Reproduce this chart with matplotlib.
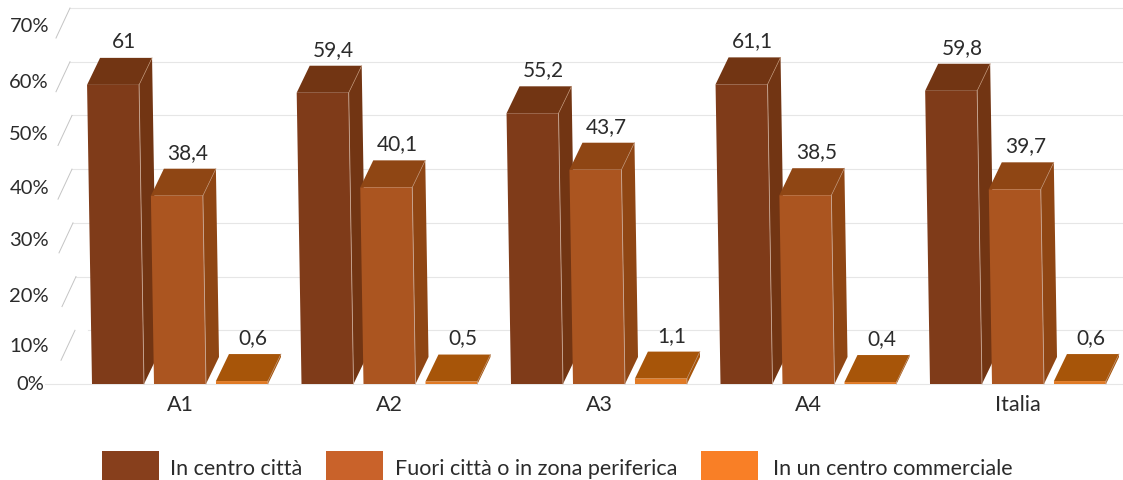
"""Quota di punti vendita per localizzazione, barre in finta prospettiva."""

import matplotlib
matplotlib.use("Agg")
import matplotlib.pyplot as plt
from matplotlib.patches import Polygon, Rectangle

areas = ["A1", "A2", "A3", "A4", "Italia"]
series_names = ["In centro città", "Fuori città o in zona periferica", "In un centro commerciale"]
centro = [61, 59.4, 55.2, 61.1, 59.8]
fuori = [38.4, 40.1, 43.7, 38.5, 39.7]
commerciale = [0.6, 0.5, 1.1, 0.4, 0.6]
value_labels = [
    ["61", "59,4", "55,2", "61,1", "59,8"],
    ["38,4", "40,1", "43,7", "38,5", "39,7"],
    ["0,6", "0,5", "1,1", "0,4", "0,6"],
]
y_ticks = [0, 10, 20, 30, 40, 50, 60, 70]

FRONT = ["#7F3B19", "#AB5520", "#E07A25"]
TOP = ["#723513", "#8F4614", "#A75509"]
SIDE = ["#723513", "#8F4614", "#A75509"]
LEGEND = ["#873F1C", "#C9622A", "#F97F26"]
TEXT = "#2B2B2B"
GRID = "#E6E6E6"
FONT = "Lato"

W, H = 1123, 481
PX_X = 209.5  # pixels per category
PX_Y = 5.371  # pixels per percentage point on the back wall
ZERO_X, ZERO_Y = 180, 385

BAR_W = 52 / PX_X
PITCH = 62 / PX_X
DEPTH_X = 13 / PX_X
DEPTH_Y = 27 / PX_Y
FRONT_SCALE = 0.913  # front faces are nearer, so they rise less than the wall
LEAN = 0.0165 * PX_Y / PX_X  # tops lean left a little


def draw_bar(ax, x0, value, i):
    h = value * FRONT_SCALE
    lean = LEAN * h
    fl, fr = (x0, 0), (x0 + BAR_W, 0)
    tl, tr = (x0 - lean, h), (x0 + BAR_W - lean, h)
    bl = (tl[0] + DEPTH_X, h + DEPTH_Y)
    br = (tr[0] + DEPTH_X, h + DEPTH_Y)
    sb = (fr[0] + DEPTH_X, DEPTH_Y)
    ax.add_patch(Polygon([fr, sb, br, tr], fc=SIDE[i], ec="none", zorder=3))
    ax.add_patch(Polygon([tl, bl, br, tr], fc=TOP[i], ec="none", zorder=3))
    ax.add_patch(Polygon([fl, fr, tr, tl], fc=FRONT[i], ec="none", zorder=3))
    # pale highlight along the visible edges
    ax.plot([fr[0], tr[0]], [0, h], color="#C9A894", lw=0.6, zorder=3)
    ax.plot([tr[0], br[0]], [h, h + DEPTH_Y], color="#B98A6A", lw=0.5, zorder=3)
    return bl[0], br[0], h + DEPTH_Y


fig = plt.figure(figsize=(W / 100, H / 100), dpi=100)
ax = fig.add_axes([0, 0, 1, 1])
ax.set_xlim(-ZERO_X / PX_X, (W - ZERO_X) / PX_X)
ax.set_ylim(-(H - ZERO_Y) / PX_Y, ZERO_Y / PX_Y)
ax.axis("off")

# back wall: gridlines, slanted ticks, percent labels
grid_start = [45, 88, 76, 73, 72, 72, 70, 70]
slant_top = [None, 75, 76, 73, 72, 72, 70, 70]
label_y = [385, 347, 297, 241, 188, 134, 83, 26]
for t, gs, st, ly in zip(y_ticks, grid_start, slant_top, label_y):
    x_gs = (gs - ZERO_X) / PX_X
    ax.plot([x_gs, (W - ZERO_X) / PX_X], [t, t], color=GRID, lw=0.8, zorder=1)
    if st is not None:
        ax.plot([(st - ZERO_X) / PX_X, (st - 14 - ZERO_X) / PX_X], [t, t - 30 / PX_Y],
                color="#C4C4C4", lw=0.7, zorder=1)
    right = 44 if t == 0 else 49
    ax.text(right / W, 1 - ly / H, f"{t}%", transform=ax.transAxes, ha="right", va="center",
            fontsize=14.5, color=TEXT, family=FONT)

series = [centro, fuori, commerciale]
for g, area in enumerate(areas):
    for i, values in enumerate(series):
        x0 = g - BAR_W / 2 + (i - 1) * PITCH
        left, right, top = draw_bar(ax, x0, values[g], i)
        ax.text((left + right) / 2 - 2 / PX_X, top + 7 / PX_Y, value_labels[i][g], ha="center", va="bottom",
                fontsize=15, color=TEXT, family=FONT, zorder=4)
    ax.text(g, -20 / PX_Y, area, ha="center", va="center", fontsize=15.5, color=TEXT, family=FONT)

# legend
swatch_x = [102, 326, 701]
text_x = [170, 395, 773]
for sx, tx, name, col in zip(swatch_x, text_x, series_names, LEGEND):
    fig.add_artist(Rectangle((sx / W, 0), 57 / W, 29 / H, transform=fig.transFigure,
                             fc=col, ec="none"))
    fig.text(tx / W, 1 - 469 / H, name, ha="left", va="center", fontsize=15.5, color=TEXT, family=FONT)

fig.savefig("out.png", dpi=100)
plt.close(fig)
